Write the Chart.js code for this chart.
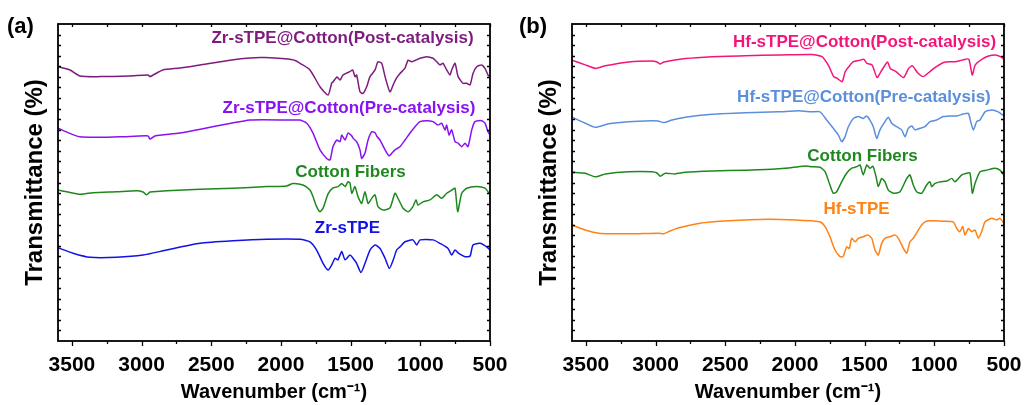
<!DOCTYPE html>
<html>
<head>
<meta charset="utf-8">
<script src="https://cdn.jsdelivr.net/npm/chart.js@4.4.1/dist/chart.umd.min.js"></script>
<style>
  html, body { margin: 0; padding: 0; background: #fff; }
  #wrap { display: flex; width: 1025px; height: 405px; }
</style>
</head>
<body>
<div id="wrap">
  <canvas id="panelA" width="512" height="405"></canvas>
  <canvas id="panelB" width="513" height="405"></canvas>
</div>
<script>
// FTIR spectra, [wavenumber (cm-1), transmittance (a.u., offset)]
const zrPost = [[3600,86.5],[3514,85.5],[3442,83.6],[3299,83.4],[3083,83.6],[2954,83.9],[2940,83.4],[2918,83.9],[2847,85.5],[2725,86.1],[2581,87.1],[2366,88.6],[2222,89.3],[2115,89.4],[1971,89.0],[1899,88.5],[1863,87.6],[1792,85.5],[1720,80.2],[1662,77.6],[1636,81.4],[1627,81.7],[1598,83.3],[1576,82.3],[1555,83.9],[1505,85.0],[1485,85.5],[1469,83.4],[1457,83.9],[1433,78.6],[1411,78.1],[1385,80.2],[1361,83.4],[1325,85.5],[1304,88.1],[1277,87.6],[1253,83.4],[1218,78.6],[1189,81.4],[1170,83.0],[1146,84.4],[1110,86.1],[1088,88.6],[1062,88.1],[1002,89.2],[954,89.7],[909,89.2],[882,88.1],[859,87.1],[837,87.6],[811,85.5],[787,83.9],[775,85.5],[751,87.6],[729,83.4],[694,81.3],[667,81.3],[643,80.8],[622,84.4],[595,86.5],[560,87.1],[536,86.0],[514,83.9],[500,83.4]];
const zrPre = [[3600,67.1],[3442,64.4],[3155,64.4],[2954,64.7],[2940,63.7],[2904,64.7],[2725,65.6],[2222,69.7],[1935,69.7],[1863,69.7],[1815,68.7],[1770,65.6],[1720,60.3],[1672,57.6],[1648,57.1],[1627,61.3],[1600,63.4],[1576,62.9],[1564,65.0],[1540,63.4],[1519,65.6],[1492,64.7],[1483,64.0],[1457,62.9],[1433,60.3],[1421,57.6],[1397,59.3],[1375,63.4],[1349,66.0],[1325,65.7],[1311,64.5],[1289,63.4],[1253,60.3],[1225,58.4],[1205,59.2],[1182,60.3],[1146,61.3],[1110,63.4],[1074,65.6],[1038,67.6],[1002,69.2],[954,69.5],[909,69.2],[873,68.1],[847,68.7],[823,66.6],[811,68.1],[794,65.0],[775,66.6],[751,62.9],[729,62.4],[703,61.3],[679,62.4],[658,61.3],[631,66.6],[608,69.2],[560,69.5],[536,68.7],[514,66.0],[500,65.0]];
const cottonA = [[3600,47.6],[3538,47.1],[3442,46.3],[3349,46.8],[3179,47.1],[3035,47.4],[2990,47.0],[2963,46.1],[2940,47.0],[2918,47.1],[2820,47.4],[2581,47.9],[2344,48.2],[2102,48.7],[1959,48.9],[1914,49.7],[1842,49.2],[1792,47.6],[1770,45.5],[1744,42.4],[1720,40.8],[1698,41.9],[1662,46.4],[1627,48.3],[1591,48.7],[1564,49.7],[1540,48.7],[1519,50.2],[1505,49.9],[1492,46.6],[1469,48.7],[1447,45.5],[1421,43.4],[1397,47.1],[1375,43.4],[1349,45.0],[1325,46.1],[1304,42.4],[1268,41.3],[1218,42.0],[1182,46.6],[1160,45.0],[1124,41.9],[1088,40.8],[1053,42.4],[1031,44.5],[1017,42.9],[981,43.9],[931,44.5],[882,46.1],[847,45.0],[811,46.6],[775,47.6],[751,48.2],[732,40.8],[703,46.6],[667,48.2],[595,48.7],[536,48.2],[505,46.6],[500,46.4]];
const zrTPE = [[3600,29.4],[3492,27.7],[3370,26.4],[3179,26.4],[2990,27.1],[2820,28.7],[2581,30.8],[2344,31.6],[2102,32.1],[1863,32.1],[1792,31.3],[1744,28.7],[1698,24.5],[1662,22.4],[1636,24.0],[1612,26.1],[1591,25.6],[1564,28.2],[1540,25.6],[1505,27.1],[1483,26.1],[1457,24.5],[1426,21.6],[1397,24.5],[1361,28.7],[1325,30.3],[1289,29.2],[1253,26.1],[1222,22.9],[1194,25.6],[1170,28.7],[1146,29.7],[1110,31.3],[1053,31.9],[1026,30.3],[1002,31.9],[909,31.9],[859,30.8],[801,29.2],[775,27.1],[751,28.7],[727,27.7],[679,26.6],[643,26.8],[622,30.3],[571,30.8],[524,29.7],[500,28.7]];

const hfPost = [[3600,88.6],[3505,87.1],[3433,86.0],[3361,86.8],[3193,88.0],[3026,88.3],[2990,88.0],[2966,87.4],[2940,88.0],[2787,89.1],[2595,89.7],[2356,90.0],[2117,90.2],[1878,90.4],[1806,89.7],[1758,86.8],[1722,83.4],[1698,82.9],[1662,81.8],[1639,85.0],[1614,86.5],[1581,88.1],[1531,88.6],[1507,88.9],[1483,87.6],[1447,87.1],[1411,83.1],[1383,85.0],[1361,86.5],[1336,88.0],[1316,86.0],[1275,85.0],[1221,83.1],[1184,86.0],[1157,86.8],[1121,84.7],[1081,83.4],[1031,85.0],[988,86.5],[921,88.0],[849,88.1],[801,88.6],[753,88.9],[728,83.9],[706,87.1],[654,89.0],[610,89.9],[562,90.2],[526,89.7],[500,88.9]];
const hfPre = [[3600,70.6],[3505,68.7],[3433,67.4],[3337,68.5],[3193,69.2],[3026,69.5],[2983,69.4],[2942,68.9],[2882,69.7],[2787,70.6],[2595,71.5],[2356,72.0],[2117,72.3],[1973,72.6],[1878,72.3],[1820,72.3],[1772,69.7],[1725,67.1],[1689,65.0],[1665,62.9],[1641,64.4],[1617,67.6],[1581,70.2],[1545,70.8],[1510,70.2],[1485,71.0],[1462,69.7],[1438,67.6],[1413,63.9],[1390,66.6],[1354,69.2],[1330,70.6],[1306,68.7],[1270,67.6],[1234,66.6],[1210,64.4],[1187,67.1],[1162,67.8],[1139,66.6],[1103,67.1],[1067,67.6],[1031,69.2],[983,69.7],[935,70.8],[887,71.0],[839,71.0],[792,71.6],[756,71.8],[739,69.2],[720,66.6],[696,69.2],[672,69.7],[636,72.3],[588,72.9],[541,72.3],[500,71.0]];
const cottonB = [[3600,53.2],[3505,52.9],[3433,51.8],[3361,52.7],[3193,53.4],[3026,53.4],[2990,53.0],[2966,52.0],[2930,52.9],[2861,52.7],[2787,53.2],[2595,53.6],[2356,53.9],[2165,54.2],[2069,54.5],[1973,55.0],[1926,55.2],[1878,55.0],[1820,54.8],[1784,53.4],[1749,49.2],[1725,46.6],[1701,47.1],[1665,50.2],[1629,52.9],[1593,54.5],[1557,55.0],[1533,55.5],[1510,52.4],[1485,55.5],[1462,54.5],[1440,55.1],[1418,51.8],[1402,48.7],[1378,51.3],[1354,50.2],[1330,47.6],[1294,46.6],[1246,47.1],[1198,51.3],[1175,52.4],[1151,49.2],[1127,47.1],[1091,46.6],[1055,49.2],[1031,50.2],[1019,48.7],[995,49.7],[959,50.2],[909,50.5],[875,51.3],[852,50.2],[803,52.4],[768,52.9],[744,53.0],[727,46.6],[708,49.7],[672,53.4],[624,53.9],[565,54.5],[529,53.9],[500,52.2]];
const hfTPE = [[3600,36.6],[3505,35.0],[3408,34.0],[3193,33.8],[2978,34.0],[2942,33.8],[2906,34.5],[2834,35.7],[2691,37.1],[2476,37.9],[2189,38.4],[1998,38.2],[1878,37.9],[1820,37.6],[1784,36.1],[1749,32.9],[1713,28.7],[1677,26.6],[1655,26.6],[1629,29.7],[1610,29.2],[1593,32.4],[1569,31.3],[1545,32.4],[1510,32.9],[1474,33.4],[1449,32.4],[1426,28.7],[1402,27.1],[1378,30.8],[1354,32.4],[1318,32.9],[1282,33.4],[1258,32.4],[1222,29.2],[1198,27.7],[1175,31.3],[1151,32.4],[1115,35.0],[1091,36.6],[1067,37.6],[1031,37.9],[935,37.8],[864,37.6],[839,35.5],[816,34.5],[796,36.1],[780,33.4],[756,35.5],[732,34.5],[708,35.0],[684,32.4],[660,34.5],[636,37.6],[588,38.7],[552,38.2],[529,38.7],[500,37.1]];

const xTicks = [500, 1000, 1500, 2000, 2500, 3000, 3500];
const xRange = [500, 3600];

const FONT = "'Liberation Sans', Arial, sans-serif";

function toPoints(arr) {
    return arr.map(p => ({ x: p[0], y: p[1] }));
}

// frame with ticks on all four sides, like the origin-style plot
const framePlugin = {
    id: 'frame',
    afterDraw(chart) {
        const { ctx, chartArea: a, scales } = chart;
        ctx.save();
        ctx.strokeStyle = '#000';
        ctx.lineWidth = 1.8;
        ctx.strokeRect(a.left, a.top, a.right - a.left, a.bottom - a.top);
        ctx.lineWidth = 1.3;
        ctx.beginPath();
        for (let v = 500; v <= 3500; v += 250) {
            const px = Math.round(scales.x.getPixelForValue(v)) + 0.5;
            const major = v % 500 === 0;
            ctx.moveTo(px, a.bottom);
            ctx.lineTo(px, a.bottom + (major ? 5 : 3));
            ctx.moveTo(px, a.top);
            ctx.lineTo(px, a.top + 3);
        }
        for (let i = 1; i < 30; i++) {
            const py = Math.round(scales.y.getPixelForValue(i * 100 / 30)) + 0.5;
            ctx.moveTo(a.left, py);
            ctx.lineTo(a.left + 3, py);
            ctx.moveTo(a.right, py);
            ctx.lineTo(a.right - 3, py);
        }
        ctx.stroke();
        ctx.restore();
    }
};

// series names written next to the curves, and the panel tag
const textPlugin = {
    id: 'notes',
    afterDraw(chart, args, opts) {
        const { ctx, scales } = chart;
        ctx.save();
        ctx.textAlign = 'center';
        ctx.textBaseline = 'middle';
        ctx.font = 'bold 17px ' + FONT;
        opts.labels.forEach(l => {
            ctx.fillStyle = l.color;
            ctx.fillText(l.text, scales.x.getPixelForValue(l.at[0]), scales.y.getPixelForValue(l.at[1]));
        });
        ctx.textAlign = 'left';
        ctx.fillStyle = '#000';
        ctx.font = 'bold 22px ' + FONT;
        ctx.fillText(opts.tag, 7, 27);
        ctx.restore();
    }
};

function makePanel(id, tag, series, labels, pad) {
    const ctx = document.getElementById(id).getContext('2d');
    return new Chart(ctx, {
        type: 'line',
        data: {
            datasets: series.map(s => ({
                label: s.name,
                data: toPoints(s.data),
                borderColor: s.color,
                borderWidth: 1.5,
                pointRadius: 0,
                fill: false,
                tension: 0.2,
            }))
        },
        options: {
            responsive: false,
            animation: false,
            layout: { padding: pad },
            plugins: {
                legend: { display: false },
                tooltip: { enabled: false },
                notes: { tag: tag, labels: labels }
            },
            scales: {
                x: {
                    type: 'linear',
                    reverse: true,
                    min: xRange[0],
                    max: xRange[1],
                    grid: { display: false, drawTicks: false },
                    border: { display: false },
                    afterBuildTicks: (scale) => {
                        scale.ticks = xTicks.map(v => ({ value: v }));
                    },
                    afterFit: (scale) => {
                        scale.height = 405 - 341;
                        scale.paddingLeft = 0;
                        scale.paddingRight = 0;
                    },
                    ticks: {
                        autoSkip: false,
                        maxRotation: 0,
                        padding: 12,
                        color: '#000',
                        callback: (v) => String(v),
                        font: { family: FONT, size: 21, weight: 'bold' }
                    },
                    title: {
                        display: true,
                        text: 'Wavenumber (cm\u207B\u00B9)',
                        color: '#000',
                        padding: { top: 0, bottom: 1 },
                        font: { family: FONT, size: 20, weight: 'bold' }
                    }
                },
                y: {
                    min: 0,
                    max: 100,
                    grid: { display: false, drawTicks: false },
                    border: { display: false },
                    ticks: { display: false },
                    afterFit: (scale) => {
                        scale.width = 38;
                    },
                    title: {
                        display: true,
                        text: 'Transmittance (%)',
                        color: '#000',
                        padding: { top: 1, bottom: 0 },
                        font: { family: FONT, size: 24, weight: 'bold' }
                    }
                }
            }
        },
        plugins: [framePlugin, textPlugin]
    });
}

makePanel('panelA', '(a)', [
    { name: 'Zr-sTPE@Cotton(Post-catalysis)', data: zrPost, color: '#7d1b7e' },
    { name: 'Zr-sTPE@Cotton(Pre-catalysis)', data: zrPre, color: '#8a12f2' },
    { name: 'Cotton Fibers', data: cottonA, color: '#1e881e' },
    { name: 'Zr-sTPE', data: zrTPE, color: '#1212e6' }
], [
    { text: 'Zr-sTPE@Cotton(Post-catalysis)', at: [1558, 95.6], color: '#7d1b7e' },
    { text: 'Zr-sTPE@Cotton(Pre-catalysis)', at: [1512, 73.5], color: '#8a12f2' },
    { text: 'Cotton Fibers', at: [1501, 53.3], color: '#1e881e' },
    { text: 'Zr-sTPE', at: [1523, 35.6], color: '#1212e6' }
], { left: 20, right: 22, top: 24, bottom: 0 });

makePanel('panelB', '(b)', [
    { name: 'Hf-sTPE@Cotton(Post-catalysis)', data: hfPost, color: '#f5147a' },
    { name: 'Hf-sTPE@Cotton(Pre-catalysis)', data: hfPre, color: '#5a8fdc' },
    { name: 'Cotton Fibers', data: cottonB, color: '#1e881e' },
    { name: 'Hf-sTPE', data: hfTPE, color: '#ff8214' }
], [
    { text: 'Hf-sTPE@Cotton(Post-catalysis)', at: [1501, 94.3], color: '#f5147a' },
    { text: 'Hf-sTPE@Cotton(Pre-catalysis)', at: [1505, 77.0], color: '#5a8fdc' },
    { text: 'Cotton Fibers', at: [1515, 58.4], color: '#1e881e' },
    { text: 'Hf-sTPE', at: [1558, 41.6], color: '#ff8214' }
], { left: 22, right: 21, top: 24, bottom: 0 });
</script>
</body>
</html>
